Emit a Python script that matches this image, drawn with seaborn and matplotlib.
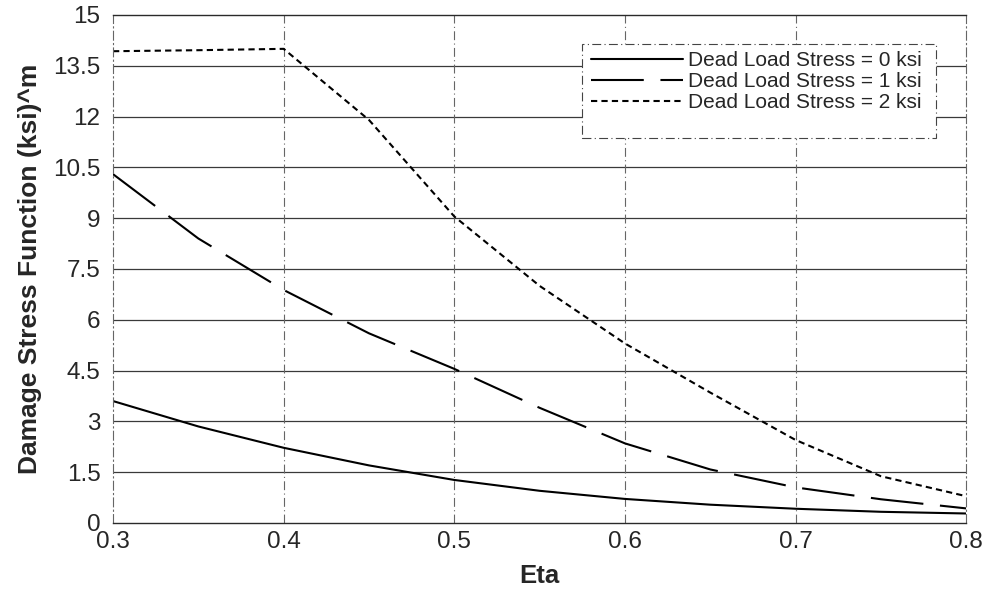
import numpy as np
import pandas as pd
import matplotlib
matplotlib.use("Agg")
import matplotlib.pyplot as plt
import seaborn as sns
from matplotlib.lines import Line2D
from matplotlib.patches import Rectangle

eta = [0.30, 0.35, 0.40, 0.45, 0.50, 0.55, 0.60, 0.65, 0.70, 0.75, 0.80]
stress_0ksi = [3.60, 2.85, 2.22, 1.70, 1.27, 0.95, 0.71, 0.54, 0.42, 0.33, 0.28]
stress_1ksi = [10.30, 8.40, 6.88, 5.60, 4.55, 3.40, 2.35, 1.58, 1.05, 0.70, 0.43]
stress_2ksi = [13.93, 13.96, 14.00, 11.90, 9.05, 7.00, 5.30, 3.85, 2.45, 1.38, 0.79]

labels = ["Dead Load Stress = 0 ksi",
          "Dead Load Stress = 1 ksi",
          "Dead Load Stress = 2 ksi"]

y_ticks = [0, 1.5, 3, 4.5, 6, 7.5, 9, 10.5, 12, 13.5, 15]
y_tick_labels = ["0", "1.5", "3", "4.5", "6", "7.5", "9", "10.5", "12", "13.5", "15"]
x_ticks = [0.3, 0.4, 0.5, 0.6, 0.7, 0.8]
x_tick_labels = ["0.3", "0.4", "0.5", "0.6", "0.7", "0.8"]

df = pd.concat([
    pd.DataFrame({"Eta": eta, "Value": vals, "Series": lab})
    for vals, lab in zip([stress_0ksi, stress_1ksi, stress_2ksi], labels)
], ignore_index=True)

sns.set_style("white")
plt.rcParams["font.family"] = ["Liberation Sans", "DejaVu Sans"]

fig = plt.figure(figsize=(9.87, 5.92), dpi=100)
ax = fig.add_axes([0.1145, 0.1166, 0.8645, 0.8581])

lw = 1.5
dash_map = {
    labels[0]: "",
    labels[1]: (38 / lw, 12 / lw),
    labels[2]: (4.5 / lw, 3.0 / lw),
}
sns.lineplot(data=df, x="Eta", y="Value", hue="Series", style="Series",
             palette=["black"] * 3, dashes=dash_map, linewidth=lw,
             ax=ax, legend=False)

ax.set_xlim(0.3, 0.8)
ax.set_ylim(0, 15)
ax.set_xticks(x_ticks)
ax.set_xticklabels(x_tick_labels, fontsize=17.5)
ax.set_yticks(y_ticks)
ax.set_yticklabels(y_tick_labels, fontsize=17.5)
ax.tick_params(axis="both", length=0)
ax.tick_params(axis="y", pad=9)
ax.tick_params(axis="x", pad=6)

# grid: solid horizontals, dash-dot verticals
dashdot = (0, (8, 3, 1, 3))
for yv in y_ticks[1:-1]:
    ax.axhline(yv, color="#3a3a3a", lw=0.9, zorder=0)
for xv in x_ticks[1:-1]:
    ax.axvline(xv, color="#666666", lw=0.8, ls=dashdot, zorder=0)

for side in ["top", "bottom"]:
    ax.spines[side].set_color("#2a2a2a")
    ax.spines[side].set_linewidth(1.0)
for side in ["left", "right"]:
    ax.spines[side].set_color("#666666")
    ax.spines[side].set_linewidth(0.8)
    ax.spines[side].set_linestyle(dashdot)

ax.set_xlabel("Eta", fontsize=18.5, fontweight="bold", labelpad=8)
ax.set_ylabel("Damage Stress Function (ksi)^m", fontsize=19,
              fontweight="bold", labelpad=8)

# legend box and entries
ax.add_patch(Rectangle((0.550, 0.758), 0.414, 0.185, transform=ax.transAxes,
                       facecolor="white", edgecolor="#444444", lw=0.8,
                       ls=dashdot, zorder=3))
handles = [Line2D([], [], color="black", lw=lw,
                  linestyle=(0, dash_map[l]) if dash_map[l] else "-")
           for l in labels]
leg = ax.legend(handles, labels, loc="upper left", bbox_to_anchor=(0.560, 0.929),
                fontsize=15, handlelength=4.4, handletextpad=0.25,
                labelspacing=0.1, borderpad=0.0, borderaxespad=0.0,
                frameon=False)
leg.set_zorder(4)

fig.savefig("out.png", dpi=100)
